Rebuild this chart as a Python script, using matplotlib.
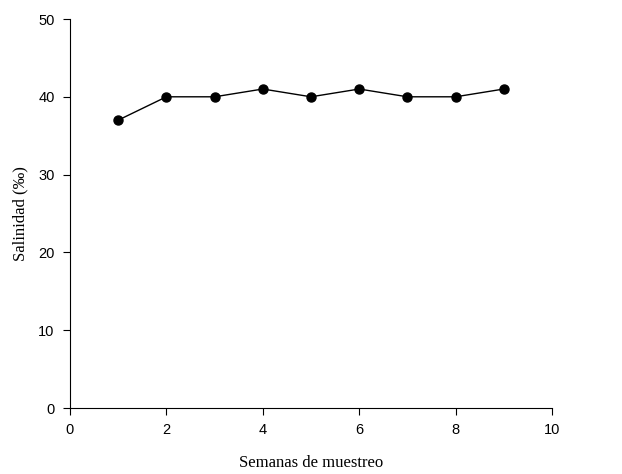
import matplotlib
matplotlib.use("Agg")
import matplotlib.pyplot as plt

semanas = [1, 2, 3, 4, 5, 6, 7, 8, 9]
salinidad = [37, 40, 40, 41, 40, 41, 40, 40, 41]
xticks = [0, 2, 4, 6, 8, 10]
yticks = [0, 10, 20, 30, 40, 50]

fig = plt.figure(figsize=(6.22, 4.74), dpi=100)
ax = fig.add_axes([70 / 622, 66 / 474, 482 / 622, 389 / 474])

ax.plot(semanas, salinidad, color="black", linewidth=1.0, marker="o",
        markersize=6.5, markerfacecolor="black", markeredgecolor="black")

ax.set_xlim(0, 10)
ax.set_ylim(0, 50)
ax.set_xticks(xticks)
ax.set_yticks(yticks)
ax.spines["top"].set_visible(False)
ax.spines["right"].set_visible(False)
for s in ("left", "bottom"):
    ax.spines[s].set_linewidth(0.8)
ax.tick_params(direction="out", length=5, width=0.8, labelsize=10.5, pad=6)
for lab in ax.get_xticklabels() + ax.get_yticklabels():
    lab.set_family("Liberation Sans")

ax.set_xlabel("Semanas de muestreo", family="Liberation Serif", fontsize=12, labelpad=13)
ax.set_ylabel("Salinidad (‰)", family="Liberation Serif", fontsize=12, labelpad=7)

fig.savefig("out.png", dpi=100)
